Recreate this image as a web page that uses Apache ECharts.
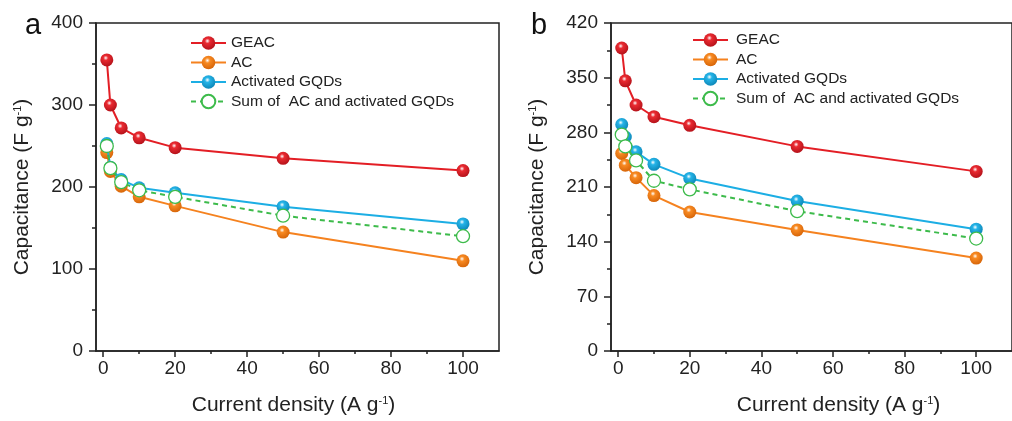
<!DOCTYPE html>
<html>
<head>
<meta charset="utf-8">
<script src="https://cdn.jsdelivr.net/npm/echarts@6/dist/echarts.min.js"></script>
<style>
html,body{margin:0;padding:0;background:#fff;}
#chart{width:1012px;height:421px;}
</style>
</head>
<body>
<div id="chart"></div>
<script>
// ---- data ----
var xVals = [1, 2, 5, 10, 20, 50, 100];
var seriesNames = ['GEAC', 'AC', 'Activated GQDs', 'Sum of  AC and activated GQDs'];
var aGEAC = [355, 300, 272, 260, 248, 235, 220];
var aAC   = [242, 219, 201, 188, 177, 145, 110];
var aGQDs = [253, 224, 209, 199, 193, 176, 155];
var aSum  = [250, 223, 206, 196, 188, 165, 140];
var bGEAC = [388, 346, 315, 300, 289, 262, 230];
var bAC   = [253, 238, 222, 199, 178, 155, 119];
var bGQDs = [290, 274, 255, 239, 221, 192, 156];
var bSum  = [277, 262, 244, 218, 207, 179, 144];
var xMajorTicks = [0, 20, 40, 60, 80, 100];
var xMinorTicks = [10, 30, 50, 70, 90];
var panelLabels = ['a', 'b'];
var yTitle = '{t|Capacitance (F g}{s|-1}{t|)}';
var xTitle = '{t|Current density (A g}{s|-1}{t|)}';

var FONT = '"Liberation Sans", Arial, sans-serif';
var AX = '#222';

function ball(c, d) {
  return new echarts.graphic.RadialGradient(0.42, 0.35, 0.62, [
    {offset: 0, color: '#ffffff'},
    {offset: 0.3, color: c},
    {offset: 1, color: d}
  ]);
}
var styles = [
  {line: '#e31e25', fill: ball('#ea2a31', '#b8141c'), dashed: false},
  {line: '#f5821f', fill: ball('#f88a22', '#d9680b'), dashed: false},
  {line: '#1caee4', fill: ball('#25b4e8', '#0f8abb'), dashed: false},
  {line: '#3dbb4b', fill: '#ffffff', dashed: true}
];

function pairs(ys) { return xVals.map(function (x, i) { return [x, ys[i]]; }); }

var richTitle = {
  t: {fontSize: 21, fontFamily: FONT, color: AX},
  s: {fontSize: 11, fontFamily: FONT, color: AX, verticalAlign: 'top', lineHeight: 13}
};

var grids = [
  {left: 96, top: 23, width: 403, height: 329},
  {left: 611, top: 23, width: 403, height: 329}
];
var yMax = [400, 420], yInt = [100, 70];
var xNamePad = [[0, 8, 0, 0], [0, 0, 0, 54]];

var option = {
  animation: false,
  backgroundColor: '#fff',
  textStyle: {fontFamily: FONT},
  title: panelLabels.map(function (t, i) {
    return {text: t, left: i === 0 ? 20 : 526, top: 6,
      textStyle: {fontSize: 29, fontWeight: 'normal', color: '#111', fontFamily: FONT}};
  }),
  grid: grids.map(function (g) {
    return Object.assign({show: true, borderColor: AX, borderWidth: 1.5, backgroundColor: 'transparent'}, g);
  }),
  legend: [0, 1].map(function (i) {
    return {
      data: seriesNames,
      orient: 'vertical',
      left: i === 0 ? 190 : 692,
      top: i === 0 ? 35 : 32,
      padding: 0,
      itemWidth: 35, itemHeight: 17, itemGap: 3.5,
      selectedMode: false,
      textStyle: {fontSize: 15.5, color: AX, fontFamily: FONT, lineHeight: 16, padding: i === 0 ? [0,0,0,0] : [0,0,0,3]}
    };
  }),
  xAxis: [],
  yAxis: [],
  series: []
};

[0, 1].forEach(function (p) {
  option.xAxis.push({
    type: 'value', gridIndex: p, min: -2, max: 110,
    name: xTitle, nameLocation: 'middle', nameGap: 44,
    nameTextStyle: {rich: richTitle, padding: xNamePad[p]},
    axisLine: {show: true, onZero: false, lineStyle: {color: AX, width: 1.5}},
    axisTick: {show: true, length: 6, customValues: xMajorTicks, lineStyle: {color: AX, width: 1.5}},
    axisLabel: {customValues: xMajorTicks, fontSize: 19, color: AX, margin: 8, fontFamily: FONT},
    splitLine: {show: false}
  });
  option.xAxis.push({
    type: 'value', gridIndex: p, min: -2, max: 110, position: 'bottom',
    axisLine: {show: false},
    axisTick: {show: true, length: 3, customValues: xMinorTicks, lineStyle: {color: AX, width: 1.5}},
    axisLabel: {show: false},
    splitLine: {show: false}
  });
  option.yAxis.push({
    type: 'value', gridIndex: p, min: 0, max: yMax[p], interval: yInt[p],
    name: yTitle, nameLocation: 'middle', nameGap: 63,
    nameTextStyle: {rich: richTitle},
    axisLine: {show: true, onZero: false, lineStyle: {color: AX, width: 1.5}},
    axisTick: {show: true, length: 7, lineStyle: {color: AX, width: 1.5}},
    minorTick: {show: true, splitNumber: 2, length: 4, lineStyle: {color: AX, width: 1.5}},
    axisLabel: {fontSize: 19, color: AX, margin: 13, fontFamily: FONT},
    splitLine: {show: false}
  });
});

var panelData = [[aGEAC, aAC, aGQDs, aSum], [bGEAC, bAC, bGQDs, bSum]];
panelData.forEach(function (set, p) {
  set.forEach(function (ys, k) {
    var st = styles[k];
    option.series.push({
      name: seriesNames[k],
      type: 'line',
      xAxisIndex: p * 2, yAxisIndex: p,
      data: pairs(ys),
      symbol: 'circle',
      symbolSize: 13,
      showSymbol: true,
      z: 2 + k,
      lineStyle: {color: st.line, width: 2, type: st.dashed ? [5, 4] : 'solid'},
      itemStyle: st.dashed ? {color: '#ffffff', borderColor: st.line, borderWidth: 1.3}
                           : {color: st.fill, borderWidth: 0},
      emphasis: {disabled: true}
    });
  });
});

var chart = echarts.init(document.getElementById('chart'), null, {renderer: 'canvas'});
chart.setOption(option);
</script>
</body>
</html>
